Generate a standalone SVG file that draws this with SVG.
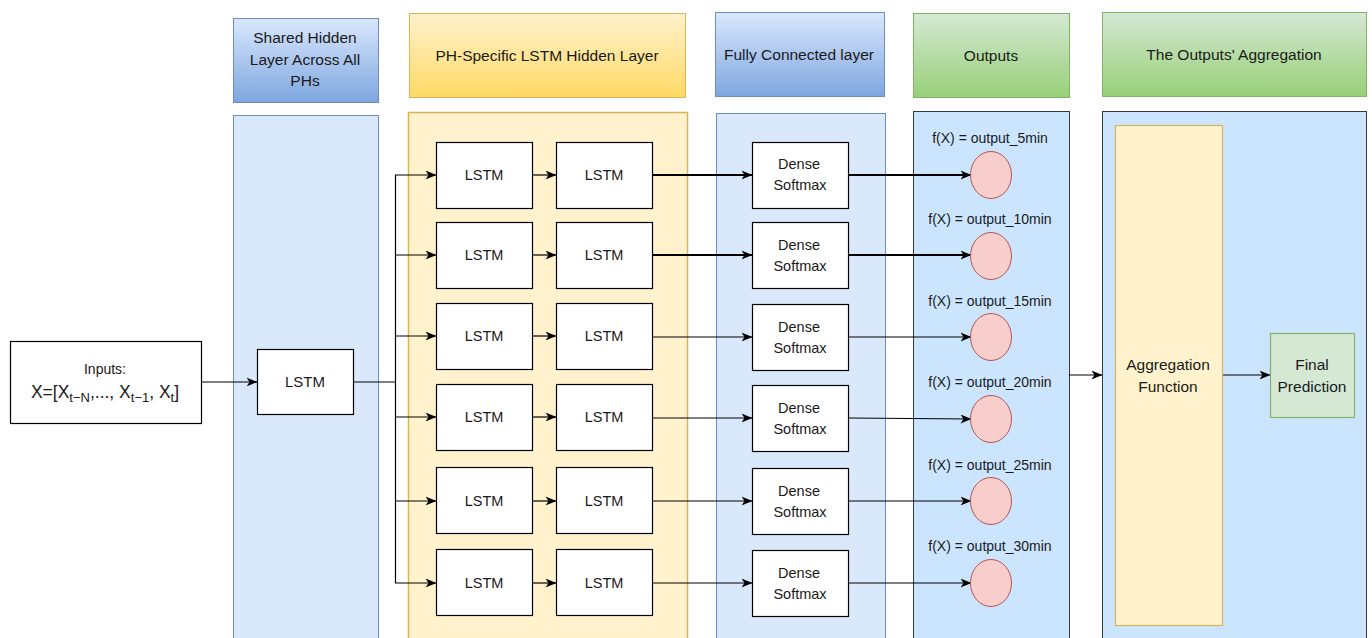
<svg xmlns="http://www.w3.org/2000/svg" width="1372" height="638" viewBox="0 0 1372 638">
<defs>
<linearGradient id="gBlue" x1="0" y1="0" x2="0" y2="1"><stop offset="0" stop-color="#dae8fc"/><stop offset="1" stop-color="#7ea6e0"/></linearGradient>
<linearGradient id="gYellow" x1="0" y1="0" x2="0" y2="1"><stop offset="0" stop-color="#fff2cc"/><stop offset="1" stop-color="#ffd966"/></linearGradient>
<linearGradient id="gGreen" x1="0" y1="0" x2="0" y2="1"><stop offset="0" stop-color="#d5e8d4"/><stop offset="1" stop-color="#97d077"/></linearGradient>
<marker id="arr" viewBox="0 0 11 10" refX="10.5" refY="5" markerWidth="11" markerHeight="10" markerUnits="userSpaceOnUse" orient="auto">
<path d="M0,0.5 L11,5 L0,9.5 L3,5 z" fill="#000"/>
</marker>
<style>
text{font-family:"Liberation Sans",Arial,sans-serif;fill:#1a1a1a;text-anchor:middle}
.hdr{font-size:15.5px}
.big{font-size:15.5px}
.lstm{font-size:14.5px}
.lbl{font-size:14px}
.box{fill:#fff;stroke:#000;stroke-width:1.2}
.hb{stroke:#6c8ebf;fill:url(#gBlue)}
.hy{stroke:#d6b656;fill:url(#gYellow)}
.hg{stroke:#82b366;fill:url(#gGreen)}
.pb{fill:#dae8fc;stroke:#6c8ebf}
.pc{fill:#cce5ff;stroke:#36393d}
.circ{fill:#f8cecc;stroke:#b85450}
.con{fill:none;stroke:#000;stroke-width:1.2}
.thick{stroke-width:1.8}
</style>
</defs>
<rect width="1372" height="638" fill="#fff"/>

<g id="panels">
<rect x="233.5" y="115.5" width="145" height="530" class="pb"/>
<rect x="408.5" y="112.5" width="279" height="533" fill="#fff2cc" stroke="#d6b656" stroke-width="1.5"/>
<rect x="716.5" y="113.5" width="169" height="532" class="pb"/>
<rect x="913.5" y="111.5" width="156" height="534" class="pc"/>
<rect x="1102.5" y="111.5" width="264" height="534" class="pc"/>
</g>

<g id="headers">
<g id="h-shared"><rect x="233.5" y="18.5" width="145" height="84" class="hb"/>
<text class="hdr" x="305" y="43">Shared Hidden</text><text class="hdr" x="305" y="65">Layer Across All</text><text class="hdr" x="305" y="86">PHs</text></g>
<g id="h-ph"><rect x="409.5" y="13.5" width="276" height="84" class="hy"/><text class="hdr" x="547" y="61">PH-Specific LSTM Hidden Layer</text></g>
<g id="h-fc"><rect x="715.5" y="12.5" width="169" height="84" class="hb"/><text class="hdr" x="799" y="60">Fully Connected layer</text></g>
<g id="h-out"><rect x="913.5" y="13.5" width="156" height="84" class="hg"/><text class="hdr" x="991" y="61">Outputs</text></g>
<g id="h-agg"><rect x="1102.5" y="12.5" width="264" height="84" class="hg"/><text class="hdr" x="1234" y="60">The Outputs' Aggregation</text></g>
</g>

<g id="connectors">
<line x1="201" y1="382" x2="257" y2="382" class="con" marker-end="url(#arr)"/>
<polyline points="353,382 395,382" class="con"/>
<line x1="395.5" y1="175" x2="395.5" y2="583" class="con"/>
<line x1="395" y1="175" x2="436" y2="175" class="con" marker-end="url(#arr)"/>
<line x1="395" y1="255" x2="436" y2="255" class="con" marker-end="url(#arr)"/>
<line x1="395" y1="336" x2="436" y2="336" class="con" marker-end="url(#arr)"/>
<line x1="395" y1="417" x2="436" y2="417" class="con" marker-end="url(#arr)"/>
<line x1="395" y1="501" x2="436" y2="501" class="con" marker-end="url(#arr)"/>
<line x1="395" y1="583" x2="436" y2="583" class="con" marker-end="url(#arr)"/>

<line x1="532" y1="175" x2="556" y2="175" class="con" marker-end="url(#arr)"/>
<line x1="532" y1="255" x2="556" y2="255" class="con" marker-end="url(#arr)"/>
<line x1="532" y1="336" x2="556" y2="336" class="con" marker-end="url(#arr)"/>
<line x1="532" y1="417" x2="556" y2="417" class="con" marker-end="url(#arr)"/>
<line x1="532" y1="501" x2="556" y2="501" class="con" marker-end="url(#arr)"/>
<line x1="532" y1="583" x2="556" y2="583" class="con" marker-end="url(#arr)"/>

<line x1="652" y1="175" x2="752" y2="175" class="con thick" marker-end="url(#arr)"/>
<line x1="652" y1="255" x2="752" y2="255" class="con thick" marker-end="url(#arr)"/>
<line x1="652" y1="337" x2="752" y2="337" class="con" marker-end="url(#arr)"/>
<line x1="652" y1="418" x2="752" y2="418" class="con" marker-end="url(#arr)"/>
<line x1="652" y1="501" x2="752" y2="501" class="con" marker-end="url(#arr)"/>
<line x1="652" y1="583" x2="752" y2="583" class="con" marker-end="url(#arr)"/>

<line x1="849" y1="175" x2="971" y2="175" class="con thick" marker-end="url(#arr)"/>
<line x1="849" y1="255" x2="971" y2="255" class="con thick" marker-end="url(#arr)"/>
<line x1="849" y1="337" x2="971" y2="337" class="con" marker-end="url(#arr)"/>
<line x1="849" y1="418" x2="971" y2="419" class="con" marker-end="url(#arr)"/>
<line x1="849" y1="501" x2="971" y2="501" class="con" marker-end="url(#arr)"/>
<line x1="849" y1="583" x2="971" y2="583" class="con" marker-end="url(#arr)"/>

<line x1="1069" y1="375" x2="1102" y2="375" class="con" marker-end="url(#arr)"/>
<line x1="1222" y1="375" x2="1270" y2="375" class="con" marker-end="url(#arr)"/>
</g>

<g id="inputs"><rect x="10.5" y="341.5" width="191" height="82" class="box"/>
<text class="lbl" x="105" y="374">Inputs:</text>
<text x="105" y="398" font-size="17.5">X=[X<tspan font-size="13" dy="4">t−N</tspan><tspan dy="-4">,..., X</tspan><tspan font-size="13" dy="4">t−1</tspan><tspan dy="-4">, X</tspan><tspan font-size="13" dy="4">t</tspan><tspan dy="-4">]</tspan></text></g>

<g id="lstm-shared"><rect x="257.5" y="349.5" width="96" height="65" class="box"/><text x="305" y="387" font-size="15">LSTM</text></g>

<g id="lstm-r1a"><rect x="436.5" y="142.5" width="96" height="66" class="box"/><text class="lstm" x="484" y="180">LSTM</text></g>
<g id="lstm-r1b"><rect x="556.5" y="142.5" width="96" height="66" class="box"/><text class="lstm" x="604" y="180">LSTM</text></g>
<g id="lstm-r2a"><rect x="436.5" y="222.5" width="96" height="66" class="box"/><text class="lstm" x="484" y="260">LSTM</text></g>
<g id="lstm-r2b"><rect x="556.5" y="222.5" width="96" height="66" class="box"/><text class="lstm" x="604" y="260">LSTM</text></g>
<g id="lstm-r3a"><rect x="436.5" y="303.5" width="96" height="66" class="box"/><text class="lstm" x="484" y="341">LSTM</text></g>
<g id="lstm-r3b"><rect x="556.5" y="303.5" width="96" height="66" class="box"/><text class="lstm" x="604" y="341">LSTM</text></g>
<g id="lstm-r4a"><rect x="436.5" y="384.5" width="96" height="66" class="box"/><text class="lstm" x="484" y="422">LSTM</text></g>
<g id="lstm-r4b"><rect x="556.5" y="384.5" width="96" height="66" class="box"/><text class="lstm" x="604" y="422">LSTM</text></g>
<g id="lstm-r5a"><rect x="436.5" y="467.5" width="96" height="66" class="box"/><text class="lstm" x="484" y="506">LSTM</text></g>
<g id="lstm-r5b"><rect x="556.5" y="467.5" width="96" height="66" class="box"/><text class="lstm" x="604" y="506">LSTM</text></g>
<g id="lstm-r6a"><rect x="436.5" y="549.5" width="96" height="66" class="box"/><text class="lstm" x="484" y="588">LSTM</text></g>
<g id="lstm-r6b"><rect x="556.5" y="549.5" width="96" height="66" class="box"/><text class="lstm" x="604" y="588">LSTM</text></g>

<g id="dense-1"><rect x="752.5" y="142.5" width="96" height="66" class="box"/><text class="lstm" x="799" y="169">Dense</text><text class="lstm" x="800" y="190">Softmax</text></g>
<g id="dense-2"><rect x="752.5" y="222.5" width="96" height="66" class="box"/><text class="lstm" x="799" y="250">Dense</text><text class="lstm" x="800" y="271">Softmax</text></g>
<g id="dense-3"><rect x="752.5" y="304.5" width="96" height="66" class="box"/><text class="lstm" x="799" y="332">Dense</text><text class="lstm" x="800" y="353">Softmax</text></g>
<g id="dense-4"><rect x="752.5" y="385.5" width="96" height="66" class="box"/><text class="lstm" x="799" y="413">Dense</text><text class="lstm" x="800" y="434">Softmax</text></g>
<g id="dense-5"><rect x="752.5" y="468.5" width="96" height="66" class="box"/><text class="lstm" x="799" y="496">Dense</text><text class="lstm" x="800" y="517">Softmax</text></g>
<g id="dense-6"><rect x="752.5" y="550.5" width="96" height="66" class="box"/><text class="lstm" x="799" y="578">Dense</text><text class="lstm" x="800" y="599">Softmax</text></g>

<g id="out-1"><text class="lbl" x="990" y="143">f(X) = output_5min</text><ellipse cx="991" cy="175" rx="20.5" ry="23.5" class="circ"/></g>
<g id="out-2"><text class="lbl" x="990" y="224">f(X) = output_10min</text><ellipse cx="991" cy="256" rx="20.5" ry="23.5" class="circ"/></g>
<g id="out-3"><text class="lbl" x="990" y="306">f(X) = output_15min</text><ellipse cx="991" cy="337" rx="20.5" ry="23.5" class="circ"/></g>
<g id="out-4"><text class="lbl" x="990" y="387">f(X) = output_20min</text><ellipse cx="991" cy="419" rx="20.5" ry="23.5" class="circ"/></g>
<g id="out-5"><text class="lbl" x="990" y="470">f(X) = output_25min</text><ellipse cx="991" cy="501" rx="20.5" ry="23.5" class="circ"/></g>
<g id="out-6"><text class="lbl" x="990" y="551">f(X) = output_30min</text><ellipse cx="991" cy="583" rx="20.5" ry="23.5" class="circ"/></g>

<g id="agg-func"><rect x="1115.5" y="125.5" width="107" height="500" fill="#fff2cc" stroke="#d6b656" stroke-width="1.2"/>
<text class="big" x="1168" y="370">Aggregation</text><text class="big" x="1168" y="392">Function</text></g>
<g id="final"><rect x="1270.5" y="333.5" width="84" height="84" fill="#d5e8d4" stroke="#82b366" stroke-width="1.2"/>
<text class="big" x="1312" y="370">Final</text><text class="big" x="1312" y="392">Prediction</text></g>
</svg>
